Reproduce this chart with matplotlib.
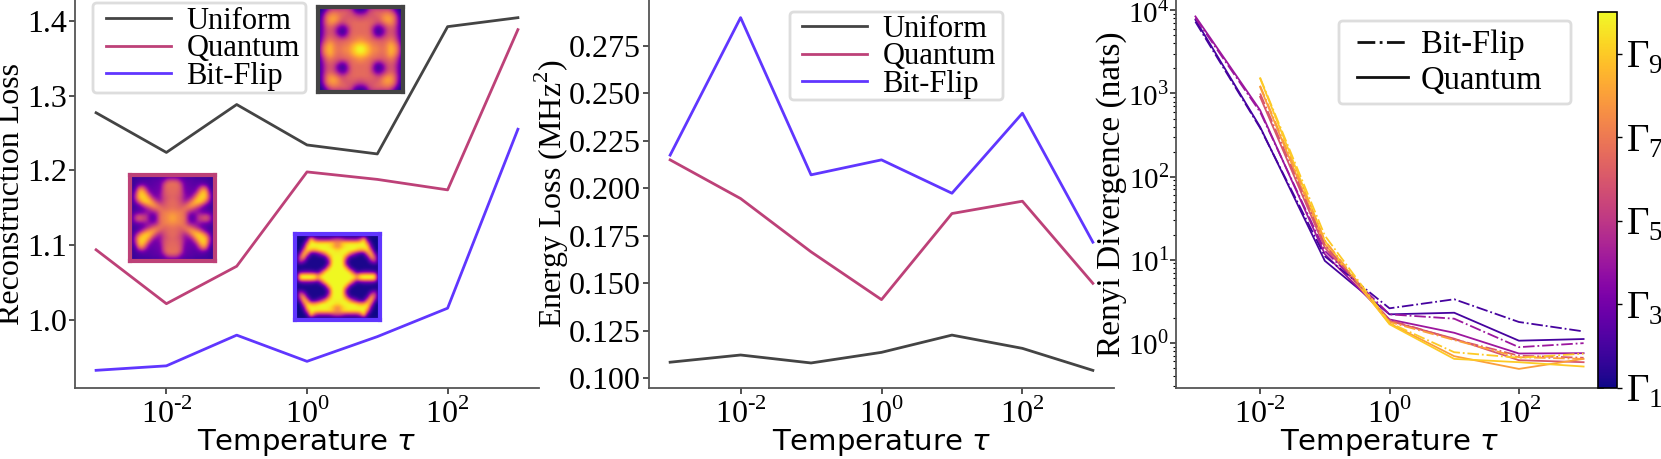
import numpy as np
import matplotlib
matplotlib.use("Agg")
import matplotlib.pyplot as plt
from matplotlib.cm import ScalarMappable
from matplotlib.colors import Normalize
from matplotlib.lines import Line2D
from matplotlib.patches import FancyBboxPatch
from matplotlib.ticker import FixedLocator, FixedFormatter, NullLocator, NullFormatter, LogLocator
from matplotlib.transforms import IdentityTransform

plt.rcParams['font.family'] = ['Liberation Serif', 'DejaVu Sans']
plt.rcParams['mathtext.fontset'] = 'custom'
plt.rcParams['mathtext.rm'] = 'Liberation Serif'
plt.rcParams['mathtext.it'] = 'DejaVu Sans:italic'
plt.rcParams['mathtext.bf'] = 'Liberation Serif:bold'

W, H = 1661, 459

# data
temperature = [1e-3, 1e-2, 1e-1, 1e0, 1e1, 1e2, 1e3]

recon_uniform = [1.277, 1.224, 1.288, 1.234, 1.222, 1.392, 1.404]
recon_quantum = [1.094, 1.022, 1.072, 1.198, 1.188, 1.174, 1.388]
recon_bitflip = [0.933, 0.939, 0.980, 0.945, 0.978, 1.016, 1.255]

energy_uniform = [0.1083, 0.1121, 0.1079, 0.1135, 0.1226, 0.1156, 0.1040]
energy_quantum = [0.2150, 0.1946, 0.1665, 0.1413, 0.1867, 0.1932, 0.1499]
energy_bitflip = [0.2175, 0.2900, 0.2071, 0.2150, 0.1974, 0.2396, 0.1716]

gammas = [2, 4, 6, 8, 9]
renyi_quantum = [
    [7710, 396, 9.7, 2.20, 2.30, 1.06, 1.11],
    [8460, 630, 11.7, 1.91, 1.32, 0.743, 0.75],
    [None, 912, 14.0, 1.83, 1.12, 0.617, 0.584],
    [None, 1200, 15.4, 1.71, 0.69, 0.485, 0.64],
    [None, 1520, 16.9, 1.67, 0.64, 0.584, 0.518],
]
renyi_bitflip = [
    [7300, 385, 11.0, 2.60, 3.34, 1.78, 1.37],
    [8100, 600, 12.8, 2.20, 1.95, 0.886, 0.99],
    [None, 1000, 15.0, 1.88, 1.10, 0.70, 0.66],
    [None, 1240, 17.0, 1.78, 1.08, 0.67, 0.64],
    [None, 1550, 19.5, 1.74, 0.77, 0.66, 0.74],
]

# one quadrant of each (mirrored) inset sample, read by eye
inset_uniform = [
    [.02, .05, .20, .40, .45, .45, .45, .45, .45, .35, .12, .05],
    [.03, .15, .45, .60, .65, .62, .60, .60, .55, .50, .30, .20],
    [.05, .30, .62, .72, .75, .70, .62, .58, .55, .55, .50, .45],
    [.08, .35, .65, .78, .80, .72, .60, .55, .58, .58, .58, .55],
    [.10, .35, .62, .72, .70, .60, .48, .50, .58, .60, .62, .62],
    [.10, .30, .55, .60, .55, .40, .25, .25, .45, .60, .62, .62],
    [.10, .30, .50, .55, .48, .25, .12, .12, .35, .58, .62, .62],
    [.10, .30, .50, .55, .50, .28, .12, .14, .40, .60, .62, .62],
    [.12, .35, .55, .60, .55, .48, .35, .38, .52, .62, .65, .68],
    [.15, .42, .62, .68, .62, .58, .58, .60, .62, .66, .70, .75],
    [.20, .55, .72, .80, .70, .62, .62, .65, .68, .75, .85, .90],
    [.25, .62, .78, .85, .72, .65, .65, .70, .72, .82, .92, 1.0],
]
inset_quantum = [
    [.06, .08, .10, .10, .10, .10, .12, .12, .14, .15, .18, .20],
    [.08, .10, .12, .12, .14, .14, .16, .16, .18, .25, .45, .50],
    [.08, .10, .14, .20, .16, .15, .16, .18, .20, .45, .62, .65],
    [.08, .12, .50, .60, .35, .18, .18, .20, .22, .50, .62, .62],
    [.08, .25, .78, .85, .60, .25, .20, .20, .25, .50, .60, .62],
    [.08, .40, .85, .92, .82, .50, .25, .22, .30, .50, .58, .60],
    [.08, .40, .82, .92, .90, .75, .45, .30, .30, .48, .55, .60],
    [.08, .25, .55, .80, .90, .88, .72, .50, .40, .50, .58, .62],
    [.10, .12, .20, .40, .60, .72, .78, .70, .58, .55, .60, .62],
    [.10, .12, .15, .18, .30, .42, .55, .62, .66, .62, .62, .65],
    [.12, .18, .22, .25, .30, .30, .30, .40, .60, .68, .70, .72],
    [.14, .40, .55, .50, .45, .25, .15, .30, .62, .68, .72, .78],
]
inset_bitflip = [
    [.02, .02, .02, .02, .02, .02, .02, .02, .02, .02, .02, .02],
    [.00, .00, .00, .10, .95, .50, .30, .30, .30, .30, .40, .50],
    [.00, .00, .05, .60, 1.0, .97, .95, .95, .95, .95, .90, .75],
    [.00, .00, .20, .95, 1.0, 1.0, 1.0, 1.0, 1.0, .97, .90, .72],
    [.00, .00, .60, .95, .85, .80, .90, 1.0, 1.0, 1.0, 1.0, .95],
    [.00, .30, .90, .70, .10, .08, .20, .40, .70, .95, .98, .98],
    [.02, .60, .80, .15, .03, .02, .03, .05, .10, .60, .98, 1.0],
    [.03, .50, .30, .03, .02, .02, .02, .02, .03, .25, .95, 1.0],
    [.02, .05, .03, .02, .02, .02, .02, .02, .03, .30, .98, 1.0],
    [.02, .02, .02, .02, .02, .02, .02, .03, .20, .85, 1.0, 1.0],
    [.02, .10, .15, .15, .15, .10, .08, .40, .90, 1.0, 1.0, 1.0],
    [.05, .95, 1.0, 1.0, 1.0, .95, .70, .95, 1.0, 1.0, 1.0, 1.0],
]

c_uniform = '#444444'
c_quantum = '#bd4178'
c_bitflip = '#6036ff'
c_spine = '#555555'
tick_size = 23
temp_size = 21


def px_axes(x0, x1, y0, y1):
    return fig.add_axes([x0 / W, 1 - y1 / H, (x1 - x0) / W, (y1 - y0) / H])


def style(ax):
    ax.set_xscale('log')
    ax.spines['top'].set_visible(False)
    ax.spines['right'].set_visible(False)
    ax.spines['left'].set_color(c_spine)
    ax.spines['bottom'].set_color(c_spine)
    ax.spines['left'].set_linewidth(1.3)
    ax.spines['bottom'].set_linewidth(1.3)
    ax.xaxis.set_major_locator(FixedLocator([1e-2, 1e0, 1e2]))
    ax.xaxis.set_major_formatter(FixedFormatter([r'$10^{\text{-}2}$', r'$10^{0}$', r'$10^{2}$']))
    ax.xaxis.set_minor_locator(NullLocator())
    ax.tick_params(axis='both', which='major', labelsize=tick_size, length=4, width=1.1, pad=2, color='#222222')
    ax.tick_params(axis='x', which='major', pad=4)
    ax.set_xlabel(r'Temperature $\tau$', fontsize=temp_size, family='DejaVu Sans')
    ax.xaxis.set_label_coords(0.5, -0.10)


def legend_at(ax, handles, labels, box, x, y, fontsize=22, **kw):
    # box is (x0, x1, y0, y1) in picture pixels, frame drawn apart from the entries
    x0, x1, y0, y1 = box
    frame = FancyBboxPatch((x0, H - y1), x1 - x0, y1 - y0, boxstyle='round,pad=0,rounding_size=4',
                           transform=IdentityTransform(), facecolor='white', edgecolor='#dddddd',
                           linewidth=2, clip_on=False, zorder=4)
    ax.add_patch(frame)
    leg = ax.legend(handles, labels, loc='upper left', bbox_to_anchor=(x / W, 1 - y / H),
                    bbox_transform=fig.transFigure, borderaxespad=0, borderpad=0, fontsize=fontsize,
                    frameon=False, **kw)
    leg.set_zorder(5)
    return leg


def inset(x0, x1, y0, y1, quadrant, color):
    # frame is drawn on the spines, so pull in by half its width
    ax = px_axes(x0 + 2, x1 - 2, y0 + 2, y1 - 2)
    q = np.array(quadrant)
    top = np.hstack([q, q[:, ::-1]])
    img = np.vstack([top, top[::-1]])
    ax.imshow(img, cmap='plasma', vmin=0, vmax=1, interpolation='bicubic', aspect='auto')
    ax.set_xticks([])
    ax.set_yticks([])
    for s in ax.spines.values():
        s.set_color(color)
        s.set_linewidth(3)


fig = plt.figure(figsize=(W / 100, H / 100), dpi=100)

# left panel
ax1 = px_axes(75, 539, 0, 388)
style(ax1)
ax1.plot(temperature, recon_uniform, color=c_uniform, lw=2, label='Uniform')
ax1.plot(temperature, recon_quantum, color=c_quantum, lw=2, label='Quantum')
ax1.plot(temperature, recon_bitflip, color=c_bitflip, lw=2, label='Bit-Flip')
ax1.set_ylim(0.9094, 1.4276)
ax1.set_yticks([1.0, 1.1, 1.2, 1.3, 1.4])
ax1.set_ylabel('Reconstruction Loss', fontsize=23)
ax1.yaxis.set_label_coords(-0.106, 0.5)
h1, l1 = ax1.get_legend_handles_labels()
legend_at(ax1, h1, l1, (93, 306, 3, 93), 106, 7, handlelength=2.13, handletextpad=0.5, labelspacing=-0.05)
inset(316, 405, 5, 94, inset_uniform, c_uniform)
inset(128, 217, 173, 263, inset_quantum, c_quantum)
inset(293, 382, 232, 322, inset_bitflip, c_bitflip)

# middle panel
ax2 = px_axes(649, 1114, 0, 388)
style(ax2)
ax2.plot(temperature, energy_uniform, color=c_uniform, lw=2, label='Uniform')
ax2.plot(temperature, energy_quantum, color=c_quantum, lw=2, label='Quantum')
ax2.plot(temperature, energy_bitflip, color=c_bitflip, lw=2, label='Bit-Flip')
ax2.set_ylim(0.0947, 0.2993)
ax2.set_yticks([0.100, 0.125, 0.150, 0.175, 0.200, 0.225, 0.250, 0.275])
ax2.set_yticklabels(['0.100', '0.125', '0.150', '0.175', '0.200', '0.225', '0.250', '0.275'])
ax2.set_ylabel(r'Energy Loss (MHz$^2$)', fontsize=23)
ax2.yaxis.set_label_coords(-0.168, 0.5)
h2, l2 = ax2.get_legend_handles_labels()
legend_at(ax2, h2, l2, (790, 1003, 12, 100), 802, 15, handlelength=2.13, handletextpad=0.5, labelspacing=-0.05)

# right panel
cmap = plt.get_cmap('plasma')
norm = Normalize(vmin=1, vmax=10)
ax3 = px_axes(1176, 1603, 0, 388)
style(ax3)
ax3.set_yscale('log')
for g, vals in zip(gammas, renyi_quantum):
    y = np.array(vals, dtype=float)
    ax3.plot(temperature, y, color=cmap(norm(g)), lw=1.3, ls='-')
for g, vals in zip(gammas, renyi_bitflip):
    y = np.array(vals, dtype=float)
    ax3.plot(temperature, y, color=cmap(norm(g)), lw=1.3, ls='-.')
ax3.set_ylim(10 ** -0.544, 10 ** 4.125)
ax3.set_yticks([1, 10, 100, 1000, 10000])
ax3.set_yticklabels(['$10^{0}$', '$10^{1}$', '$10^{2}$', '$10^{3}$', '$10^{4}$'])
ax3.yaxis.set_minor_locator(LogLocator(base=10, subs=np.arange(2, 10), numticks=10))
ax3.yaxis.set_minor_formatter(NullFormatter())
ax3.tick_params(axis='y', which='major', labelsize=21, pad=1)
ax3.tick_params(axis='y', which='minor', length=2.5, width=0.8)
ax3.set_ylabel('Renyi Divergence (nats)', fontsize=24)
ax3.yaxis.set_label_coords(-0.115, 0.5)
h3 = [Line2D([], [], color='#111111', lw=2, ls='-.'), Line2D([], [], color='#111111', lw=2, ls='-')]
legend_at(ax3, h3, ['Bit-Flip', 'Quantum'], (1339, 1571, 21, 104), 1357, 30, fontsize=23.5,
          handlelength=1.56, handletextpad=0.4, labelspacing=0.15)

cax = px_axes(1598, 1617, 12, 388)
cbar = fig.colorbar(ScalarMappable(norm=norm, cmap=cmap), cax=cax, ticks=[1, 3, 5, 7, 9])
cbar.ax.set_yticklabels([r'$\Gamma_1$', r'$\Gamma_3$', r'$\Gamma_5$', r'$\Gamma_7$', r'$\Gamma_9$'], fontsize=28)
cbar.ax.tick_params(length=3.5, width=1, pad=3)
cbar.outline.set_linewidth(1.2)

fig.savefig('out.png', dpi=100)
